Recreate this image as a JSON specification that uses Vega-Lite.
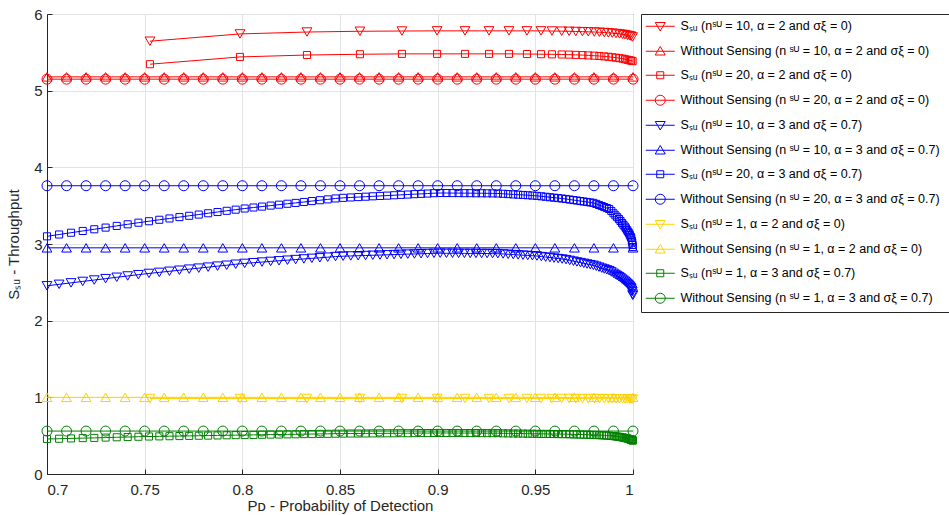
{
"$schema": "https://vega.github.io/schema/vega-lite/v6.json",
"width": 586, "height": 460,
"autosize": {"type": "none"},
"padding": {"left": 47, "top": 14, "right": 316, "bottom": 41},
"background": "white",
"config": {
  "view": {"stroke": "#262626", "strokeWidth": 1},
  "font": "Liberation Sans",
  "axis": {"domainColor": "#262626", "tickColor": "#262626", "labelColor": "#262626", "titleColor": "#262626", "gridColor": "#e3e3e3", "labelFont": "Liberation Sans", "titleFont": "Liberation Sans", "labelFontSize": 15, "titleFontSize": 15, "titleFontWeight": "normal", "tickSize": -5},
  "axisX": {"labelPadding": 13, "titlePadding": 1},
  "axisY": {"labelPadding": 10, "titlePadding": 12},
  "legend": {"orient": "right", "offset": 6, "padding": 6, "strokeColor": "#262626", "fillColor": "white", "labelFont": "Liberation Sans", "labelFontSize": 12.5, "labelColor": "#000000", "symbolSize": 100, "symbolOffset": 7, "labelOffset": 14, "rowPadding": 11, "symbolStrokeWidth": 1, "symbolFillColor": "transparent", "labelLimit": 400}
},
"data": {"values": [
{"x":0.70,"wr10":5.18,"wr20":5.15,"wb10":2.95,"wb20":3.76,"wy1":1.0,"wg1":0.56},
{"x":0.71,"wr10":5.18,"wr20":5.15,"wb10":2.95,"wb20":3.76,"wy1":1.0,"wg1":0.56},
{"x":0.72,"wr10":5.18,"wr20":5.15,"wb10":2.95,"wb20":3.76,"wy1":1.0,"wg1":0.56},
{"x":0.73,"wr10":5.18,"wr20":5.15,"wb10":2.95,"wb20":3.76,"wy1":1.0,"wg1":0.56},
{"x":0.74,"wr10":5.18,"wr20":5.15,"wb10":2.95,"wb20":3.76,"wy1":1.0,"wg1":0.56},
{"x":0.75,"wr10":5.18,"wr20":5.15,"wb10":2.95,"wb20":3.76,"wy1":1.0,"wg1":0.56},
{"x":0.76,"wr10":5.18,"wr20":5.15,"wb10":2.95,"wb20":3.76,"wy1":1.0,"wg1":0.56},
{"x":0.77,"wr10":5.18,"wr20":5.15,"wb10":2.95,"wb20":3.76,"wy1":1.0,"wg1":0.56},
{"x":0.78,"wr10":5.18,"wr20":5.15,"wb10":2.95,"wb20":3.76,"wy1":1.0,"wg1":0.56},
{"x":0.79,"wr10":5.18,"wr20":5.15,"wb10":2.95,"wb20":3.76,"wy1":1.0,"wg1":0.56},
{"x":0.80,"wr10":5.18,"wr20":5.15,"wb10":2.95,"wb20":3.76,"wy1":1.0,"wg1":0.56},
{"x":0.81,"wr10":5.18,"wr20":5.15,"wb10":2.95,"wb20":3.76,"wy1":1.0,"wg1":0.56},
{"x":0.82,"wr10":5.18,"wr20":5.15,"wb10":2.95,"wb20":3.76,"wy1":1.0,"wg1":0.56},
{"x":0.83,"wr10":5.18,"wr20":5.15,"wb10":2.95,"wb20":3.76,"wy1":1.0,"wg1":0.56},
{"x":0.84,"wr10":5.18,"wr20":5.15,"wb10":2.95,"wb20":3.76,"wy1":1.0,"wg1":0.56},
{"x":0.85,"wr10":5.18,"wr20":5.15,"wb10":2.95,"wb20":3.76,"wy1":1.0,"wg1":0.56},
{"x":0.86,"wr10":5.18,"wr20":5.15,"wb10":2.95,"wb20":3.76,"wy1":1.0,"wg1":0.56},
{"x":0.87,"wr10":5.18,"wr20":5.15,"wb10":2.95,"wb20":3.76,"wy1":1.0,"wg1":0.56},
{"x":0.88,"wr10":5.18,"wr20":5.15,"wb10":2.95,"wb20":3.76,"wy1":1.0,"wg1":0.56},
{"x":0.89,"wr10":5.18,"wr20":5.15,"wb10":2.95,"wb20":3.76,"wy1":1.0,"wg1":0.56},
{"x":0.90,"wr10":5.18,"wr20":5.15,"wb10":2.95,"wb20":3.76,"wy1":1.0,"wg1":0.56},
{"x":0.91,"wr10":5.18,"wr20":5.15,"wb10":2.95,"wb20":3.76,"wy1":1.0,"wg1":0.56},
{"x":0.92,"wr10":5.18,"wr20":5.15,"wb10":2.95,"wb20":3.76,"wy1":1.0,"wg1":0.56},
{"x":0.93,"wr10":5.18,"wr20":5.15,"wb10":2.95,"wb20":3.76,"wy1":1.0,"wg1":0.56},
{"x":0.94,"wr10":5.18,"wr20":5.15,"wb10":2.95,"wb20":3.76,"wy1":1.0,"wg1":0.56},
{"x":0.95,"wr10":5.18,"wr20":5.15,"wb10":2.95,"wb20":3.76,"wy1":1.0,"wg1":0.56},
{"x":0.96,"wr10":5.18,"wr20":5.15,"wb10":2.95,"wb20":3.76,"wy1":1.0,"wg1":0.56},
{"x":0.97,"wr10":5.18,"wr20":5.15,"wb10":2.95,"wb20":3.76,"wy1":1.0,"wg1":0.56},
{"x":0.98,"wr10":5.18,"wr20":5.15,"wb10":2.95,"wb20":3.76,"wy1":1.0,"wg1":0.56},
{"x":0.99,"wr10":5.18,"wr20":5.15,"wb10":2.95,"wb20":3.76,"wy1":1.0,"wg1":0.56},
{"x":1.00,"wr10":5.18,"wr20":5.15,"wb10":2.95,"wb20":3.76,"wy1":1.0,"wg1":0.56},
{"x":0.7527,"sr10":5.645,"sr20":5.345,"sy1":0.985},
{"x":0.7988,"sr10":5.74,"sr20":5.44,"sy1":0.985},
{"x":0.8331,"sr10":5.765,"sr20":5.465,"sy1":0.985},
{"x":0.8602,"sr10":5.775,"sr20":5.475,"sy1":0.985},
{"x":0.8817,"sr10":5.778,"sr20":5.48,"sy1":0.985},
{"x":0.8997,"sr10":5.78,"sr20":5.48,"sy1":0.985},
{"x":0.914,"sr10":5.78,"sr20":5.48,"sy1":0.985},
{"x":0.9263,"sr10":5.78,"sr20":5.48,"sy1":0.985},
{"x":0.9365,"sr10":5.78,"sr20":5.48,"sy1":0.985},
{"x":0.9457,"sr10":5.78,"sr20":5.478,"sy1":0.985},
{"x":0.9529,"sr10":5.78,"sr20":5.476,"sy1":0.985},
{"x":0.9585,"sr10":5.778,"sr20":5.474,"sy1":0.985},
{"x":0.9635,"sr10":5.776,"sr20":5.472,"sy1":0.985},
{"x":0.9673,"sr10":5.774,"sr20":5.47,"sy1":0.985},
{"x":0.9707,"sr10":5.772,"sr20":5.467,"sy1":0.984},
{"x":0.9741,"sr10":5.77,"sr20":5.464,"sy1":0.984},
{"x":0.9771,"sr10":5.768,"sr20":5.46,"sy1":0.984},
{"x":0.9802,"sr10":5.765,"sr20":5.456,"sy1":0.984},
{"x":0.9828,"sr10":5.762,"sr20":5.452,"sy1":0.983},
{"x":0.9853,"sr10":5.758,"sr20":5.447,"sy1":0.983},
{"x":0.9874,"sr10":5.754,"sr20":5.442,"sy1":0.983},
{"x":0.9894,"sr10":5.75,"sr20":5.436,"sy1":0.982},
{"x":0.9913,"sr10":5.745,"sr20":5.43,"sy1":0.982},
{"x":0.9931,"sr10":5.74,"sr20":5.424,"sy1":0.981},
{"x":0.9947,"sr10":5.735,"sr20":5.418,"sy1":0.981},
{"x":0.9959,"sr10":5.73,"sr20":5.41,"sy1":0.98},
{"x":0.9972,"sr10":5.722,"sr20":5.403,"sy1":0.98},
{"x":0.9982,"sr10":5.716,"sr20":5.397,"sy1":0.979},
{"x":0.999,"sr10":5.71,"sr20":5.392,"sy1":0.978},
{"x":0.9998,"sr10":5.70,"sr20":5.385,"sy1":0.977},
{"x":0.7000,"sb10":2.455,"sb20":3.100,"sg1":0.456},
{"x":0.7062,"sb10":2.474,"sb20":3.124,"sg1":0.460},
{"x":0.7123,"sb10":2.493,"sb20":3.147,"sg1":0.464},
{"x":0.7183,"sb10":2.512,"sb20":3.170,"sg1":0.468},
{"x":0.7242,"sb10":2.530,"sb20":3.192,"sg1":0.471},
{"x":0.7300,"sb10":2.548,"sb20":3.214,"sg1":0.475},
{"x":0.7357,"sb10":2.566,"sb20":3.236,"sg1":0.479},
{"x":0.7413,"sb10":2.583,"sb20":3.257,"sg1":0.482},
{"x":0.7468,"sb10":2.600,"sb20":3.278,"sg1":0.486},
{"x":0.7522,"sb10":2.616,"sb20":3.297,"sg1":0.489},
{"x":0.7575,"sb10":2.630,"sb20":3.316,"sg1":0.491},
{"x":0.7627,"sb10":2.644,"sb20":3.333,"sg1":0.493},
{"x":0.7678,"sb10":2.658,"sb20":3.351,"sg1":0.495},
{"x":0.7728,"sb10":2.672,"sb20":3.368,"sg1":0.497},
{"x":0.7777,"sb10":2.685,"sb20":3.384,"sg1":0.499},
{"x":0.7825,"sb10":2.698,"sb20":3.401,"sg1":0.501},
{"x":0.7873,"sb10":2.711,"sb20":3.417,"sg1":0.503},
{"x":0.7920,"sb10":2.723,"sb20":3.433,"sg1":0.505},
{"x":0.7966,"sb10":2.736,"sb20":3.448,"sg1":0.507},
{"x":0.8012,"sb10":2.747,"sb20":3.463,"sg1":0.508},
{"x":0.8057,"sb10":2.756,"sb20":3.476,"sg1":0.510},
{"x":0.8101,"sb10":2.764,"sb20":3.488,"sg1":0.512},
{"x":0.8145,"sb10":2.773,"sb20":3.501,"sg1":0.514},
{"x":0.8188,"sb10":2.781,"sb20":3.513,"sg1":0.515},
{"x":0.8231,"sb10":2.789,"sb20":3.525,"sg1":0.517},
{"x":0.8273,"sb10":2.797,"sb20":3.536,"sg1":0.518},
{"x":0.8315,"sb10":2.805,"sb20":3.548,"sg1":0.520},
{"x":0.8356,"sb10":2.813,"sb20":3.560,"sg1":0.521},
{"x":0.8397,"sb10":2.820,"sb20":3.571,"sg1":0.523},
{"x":0.8437,"sb10":2.828,"sb20":3.582,"sg1":0.524},
{"x":0.8477,"sb10":2.836,"sb20":3.594,"sg1":0.526},
{"x":0.8516,"sb10":2.841,"sb20":3.602,"sg1":0.527},
{"x":0.8555,"sb10":2.844,"sb20":3.607,"sg1":0.528},
{"x":0.8593,"sb10":2.847,"sb20":3.612,"sg1":0.528},
{"x":0.8631,"sb10":2.850,"sb20":3.617,"sg1":0.529},
{"x":0.8668,"sb10":2.853,"sb20":3.622,"sg1":0.530},
{"x":0.8705,"sb10":2.856,"sb20":3.627,"sg1":0.530},
{"x":0.8741,"sb10":2.859,"sb20":3.631,"sg1":0.531},
{"x":0.8777,"sb10":2.862,"sb20":3.636,"sg1":0.531},
{"x":0.8812,"sb10":2.865,"sb20":3.641,"sg1":0.532},
{"x":0.8847,"sb10":2.868,"sb20":3.645,"sg1":0.532},
{"x":0.8881,"sb10":2.870,"sb20":3.650,"sg1":0.533},
{"x":0.8915,"sb10":2.873,"sb20":3.654,"sg1":0.534},
{"x":0.8948,"sb10":2.876,"sb20":3.658,"sg1":0.534},
{"x":0.8981,"sb10":2.878,"sb20":3.663,"sg1":0.535},
{"x":0.9013,"sb10":2.880,"sb20":3.665,"sg1":0.535},
{"x":0.9045,"sb10":2.879,"sb20":3.665,"sg1":0.535},
{"x":0.9076,"sb10":2.879,"sb20":3.664,"sg1":0.534},
{"x":0.9107,"sb10":2.878,"sb20":3.664,"sg1":0.534},
{"x":0.9137,"sb10":2.878,"sb20":3.663,"sg1":0.534},
{"x":0.9167,"sb10":2.877,"sb20":3.663,"sg1":0.534},
{"x":0.9196,"sb10":2.877,"sb20":3.662,"sg1":0.534},
{"x":0.9225,"sb10":2.876,"sb20":3.662,"sg1":0.533},
{"x":0.9253,"sb10":2.876,"sb20":3.661,"sg1":0.533},
{"x":0.9281,"sb10":2.875,"sb20":3.660,"sg1":0.533},
{"x":0.9308,"sb10":2.874,"sb20":3.659,"sg1":0.533},
{"x":0.9335,"sb10":2.870,"sb20":3.655,"sg1":0.531},
{"x":0.9361,"sb10":2.866,"sb20":3.651,"sg1":0.530},
{"x":0.9387,"sb10":2.862,"sb20":3.647,"sg1":0.529},
{"x":0.9412,"sb10":2.858,"sb20":3.643,"sg1":0.528},
{"x":0.9437,"sb10":2.854,"sb20":3.640,"sg1":0.527},
{"x":0.9461,"sb10":2.851,"sb20":3.636,"sg1":0.526},
{"x":0.9485,"sb10":2.847,"sb20":3.632,"sg1":0.525},
{"x":0.9508,"sb10":2.843,"sb20":3.628,"sg1":0.524},
{"x":0.9531,"sb10":2.836,"sb20":3.622,"sg1":0.523},
{"x":0.9553,"sb10":2.829,"sb20":3.616,"sg1":0.523},
{"x":0.9575,"sb10":2.823,"sb20":3.610,"sg1":0.522},
{"x":0.9596,"sb10":2.816,"sb20":3.604,"sg1":0.521},
{"x":0.9617,"sb10":2.810,"sb20":3.599,"sg1":0.521},
{"x":0.9637,"sb10":2.804,"sb20":3.593,"sg1":0.520},
{"x":0.9657,"sb10":2.796,"sb20":3.587,"sg1":0.520},
{"x":0.9676,"sb10":2.786,"sb20":3.580,"sg1":0.518},
{"x":0.9695,"sb10":2.776,"sb20":3.573,"sg1":0.517},
{"x":0.9713,"sb10":2.766,"sb20":3.567,"sg1":0.516},
{"x":0.9731,"sb10":2.757,"sb20":3.560,"sg1":0.515},
{"x":0.9748,"sb10":2.748,"sb20":3.554,"sg1":0.513},
{"x":0.9765,"sb10":2.739,"sb20":3.548,"sg1":0.512},
{"x":0.9781,"sb10":2.730,"sb20":3.542,"sg1":0.511},
{"x":0.9797,"sb10":2.722,"sb20":3.536,"sg1":0.510},
{"x":0.9812,"sb10":2.710,"sb20":3.523,"sg1":0.508},
{"x":0.9826,"sb10":2.698,"sb20":3.509,"sg1":0.507},
{"x":0.9840,"sb10":2.685,"sb20":3.495,"sg1":0.505},
{"x":0.9853,"sb10":2.674,"sb20":3.482,"sg1":0.503},
{"x":0.9866,"sb10":2.663,"sb20":3.469,"sg1":0.502},
{"x":0.9878,"sb10":2.652,"sb20":3.457,"sg1":0.500},
{"x":0.9889,"sb10":2.636,"sb20":3.431,"sg1":0.497},
{"x":0.9900,"sb10":2.618,"sb20":3.401,"sg1":0.494},
{"x":0.9910,"sb10":2.602,"sb20":3.374,"sg1":0.491},
{"x":0.9919,"sb10":2.588,"sb20":3.350,"sg1":0.488},
{"x":0.9928,"sb10":2.573,"sb20":3.325,"sg1":0.486},
{"x":0.9936,"sb10":2.558,"sb20":3.300,"sg1":0.482},
{"x":0.9944,"sb10":2.542,"sb20":3.273,"sg1":0.478},
{"x":0.9951,"sb10":2.528,"sb20":3.250,"sg1":0.475},
{"x":0.9958,"sb10":2.514,"sb20":3.227,"sg1":0.471},
{"x":0.9964,"sb10":2.500,"sb20":3.204,"sg1":0.467},
{"x":0.9970,"sb10":2.485,"sb20":3.180,"sg1":0.464},
{"x":0.9975,"sb10":2.473,"sb20":3.160,"sg1":0.460},
{"x":0.9980,"sb10":2.460,"sb20":3.140,"sg1":0.457},
{"x":0.9984,"sb10":2.446,"sb20":3.118,"sg1":0.453},
{"x":0.9988,"sb10":2.431,"sb20":3.096,"sg1":0.449},
{"x":0.9991,"sb10":2.420,"sb20":3.080,"sg1":0.446},
{"x":0.9994,"sb10":2.396,"sb20":3.044,"sg1":0.443},
{"x":0.9996,"sb10":2.380,"sb20":3.020,"sg1":0.441},
{"x":0.9998,"sb10":2.347,"sb20":2.987,"sg1":0.439},
{"x":0.9999,"sb10":2.330,"sb20":2.960,"sg1":0.437}
]},
"transform": [
  {"fold": ["sr10","wr10","sr20","wr20","sb10","wb10","sb20","wb20","sy1","wy1","sg1","wg1"], "as": ["key", "value"]},
  {"filter": "isValid(datum.value)"}
],
"encoding": {
  "x": {"field": "x", "type": "quantitative", "scale": {"domain": [0.7, 1], "nice": false, "zero": false}, "axis": {"values": [0.7, 0.75, 0.8, 0.85, 0.9, 0.95, 1], "format": ".2~f", "title": "Pᴅ - Probability of Detection", "grid": true}},
  "y": {"field": "value", "type": "quantitative", "scale": {"domain": [0, 6], "nice": false}, "axis": {"values": [0, 1, 2, 3, 4, 5, 6], "title": "Sₛᵤ - Throughput", "grid": true}},
  "color": {"field": "key", "type": "nominal",
    "scale": {"domain": ["sr10","wr10","sr20","wr20","sb10","wb10","sb20","wb20","sy1","wy1","sg1","wg1"],
              "range": ["#ff0000","#ff0000","#ff0000","#ff0000","#0000ff","#0000ff","#0000ff","#0000ff","#ffd200","#ffd200","#008000","#008000"]},
    "legend": {"title": null,
      "labelExpr": "{'sr10':'Sₛᵤ (nˢᵁ = 10,  α = 2 and  σξ = 0)','wr10':'Without Sensing (n ˢᵁ = 10,  α = 2 and  σξ = 0)','sr20':'Sₛᵤ (nˢᵁ = 20,  α = 2 and  σξ = 0)','wr20':'Without Sensing (n ˢᵁ = 20,  α = 2 and  σξ = 0)','sb10':'Sₛᵤ (nˢᵁ = 10,  α = 3 and  σξ = 0.7)','wb10':'Without Sensing (n ˢᵁ = 10,  α = 3 and  σξ = 0.7)','sb20':'Sₛᵤ (nˢᵁ = 20,  α = 3 and  σξ = 0.7)','wb20':'Without Sensing (n ˢᵁ = 20,  α = 3 and  σξ = 0.7)','sy1':'Sₛᵤ (nˢᵁ = 1,  α = 2 and  σξ = 0)','wy1':'Without Sensing (n ˢᵁ = 1,  α = 2 and  σξ = 0)','sg1':'Sₛᵤ (nˢᵁ = 1,  α = 3 and  σξ = 0.7)','wg1':'Without Sensing (n ˢᵁ = 1,  α = 3 and  σξ = 0.7)'}[datum.value]",
      "encoding": {"symbols": {
        "shape": {"value": {"expr": "indexof(['sr10','sb10','sy1'], datum.value) >= 0 ? 'M-2.9,0H2.9M-1,-0.75H1L0,0.95Z' : indexof(['wr10','wb10','wy1'], datum.value) >= 0 ? 'M-2.9,0H2.9M-1,0.75H1L0,-0.95Z' : indexof(['sr20','sb20','sg1'], datum.value) >= 0 ? 'M-2.9,0H2.9M-0.7,-0.7H0.7V0.7H-0.7Z' : 'M-2.9,0H2.9M1,0A1,1,0,1,1,-1,0A1,1,0,1,1,1,0Z'"}},
        "fill": {"value": "transparent"},
        "strokeWidth": {"value": 1}
      }}
    }
  }
},
"layer": [
  {"mark": {"type": "line", "strokeWidth": 1}, "encoding": {"detail": {"field": "key"}}},
  {"transform": [{"filter": {"field": "key", "oneOf": ["sr10","sb10","sy1"]}}],
   "mark": {"type": "point", "shape": "triangle-down", "size": 95, "filled": false, "strokeWidth": 1, "opacity": 1}},
  {"transform": [{"filter": {"field": "key", "oneOf": ["wr10","wb10","wy1"]}}],
   "mark": {"type": "point", "shape": "triangle-up", "size": 95, "filled": false, "strokeWidth": 1, "opacity": 1}},
  {"transform": [{"filter": {"field": "key", "oneOf": ["sr20","sb20","sg1"]}}],
   "mark": {"type": "point", "shape": "square", "size": 50, "filled": false, "strokeWidth": 1, "opacity": 1}},
  {"transform": [{"filter": {"field": "key", "oneOf": ["wr20","wb20","wg1"]}}],
   "mark": {"type": "point", "shape": "circle", "size": 100, "filled": false, "strokeWidth": 1, "opacity": 1}}
]
}
